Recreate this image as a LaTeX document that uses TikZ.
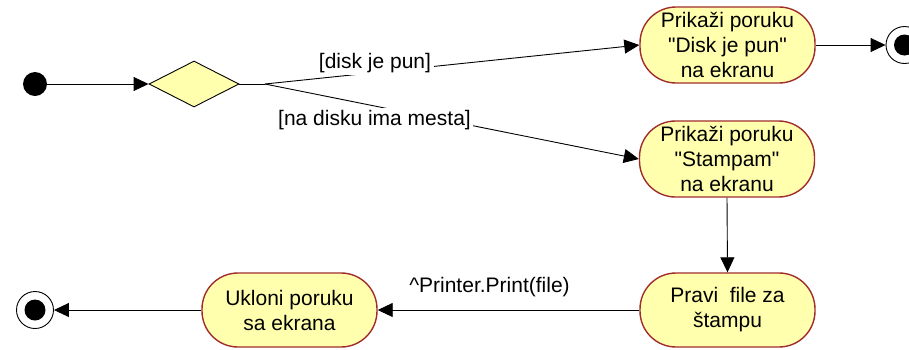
\documentclass[tikz,border=0pt]{standalone}
\usepackage{fontspec}
\setmainfont{Liberation Sans}
\usetikzlibrary{shapes.geometric,arrows.meta}
\definecolor{actfill}{HTML}{FFFFAD}
\definecolor{actborder}{HTML}{A02C2C}
\begin{document}
\begin{tikzpicture}[x=1pt,y=-1pt,
  txt/.style={font=\fontsize{21}{25}\selectfont},
  act/.style={txt, draw=actborder, line width=1.4pt, fill=actfill, rounded corners=36pt,
    minimum width=175pt, minimum height=76pt, align=center, inner sep=0pt},
  decis/.style={diamond, draw=black, line width=0.9pt, fill=actfill, aspect=1.95,
    minimum width=90pt, minimum height=46pt, inner sep=0pt},
  flow/.style={draw=black, line width=0.9pt, -{Triangle[length=15pt,width=14pt]}},
  plain/.style={draw=black, line width=0.9pt},
  guard/.style={txt, fill=white, inner sep=2.5pt},
  startdot/.style={circle, fill=black, minimum size=24pt, inner sep=0pt},
  endring/.style={circle, draw=black, fill=white, line width=0.9pt, minimum size=37pt, inner sep=0pt},
  enddot/.style={circle, fill=black, minimum size=21pt, inner sep=0pt}]
\useasboundingbox (0,0) rectangle (909,349);

% nodes
\node[startdot] (init) at (35,84) {};
\node[decis] (dec) at (194,84) {};
\coordinate (br) at (265,84);
\node[act] (n1) at (727.5,45) {Prikaži poruku\\\textquotedbl Disk je pun\textquotedbl\\na ekranu};
\node[act] (n2) at (727,159) {Prikaži poruku\\\textquotedbl Stampam\textquotedbl\\na ekranu};
\node[act, minimum height=74pt] (n3) at (727.5,310) {Pravi\ \ file za\\štampu};
\node[act, minimum height=74pt] (n4) at (289.5,310) {Ukloni poruku\\sa ekrana};
\node[endring] (f1) at (904.5,45) {};
\node[enddot] (f1d) at (f1.center) {};
\node[endring] (f2) at (35,310) {};
\node[enddot] (f2d) at (f2.center) {};

% connectors
\draw[flow] (init) -- (dec.west);
\draw[plain] (dec.east) -- (br);
\draw[flow] (br) -- (n1.west);
\draw[flow] (br) -- (n2.west);
\draw[flow] (n1.east) -- (f1.west);
\draw[flow] (n2.south) -- (n3.north);
\draw[flow] (n3.west) -- (n4.east);
\draw[flow] (n4.west) -- (f2.east);

% guards and labels
\node[guard] (g1) at (375,63) {[disk je pun]};
\node[guard] (g2) at (374.5,120) {[na disku ima mesta]};
\node[txt] (g3) at (489.5,287) {\textasciicircum Printer.Print(file)};
\end{tikzpicture}
\end{document}
